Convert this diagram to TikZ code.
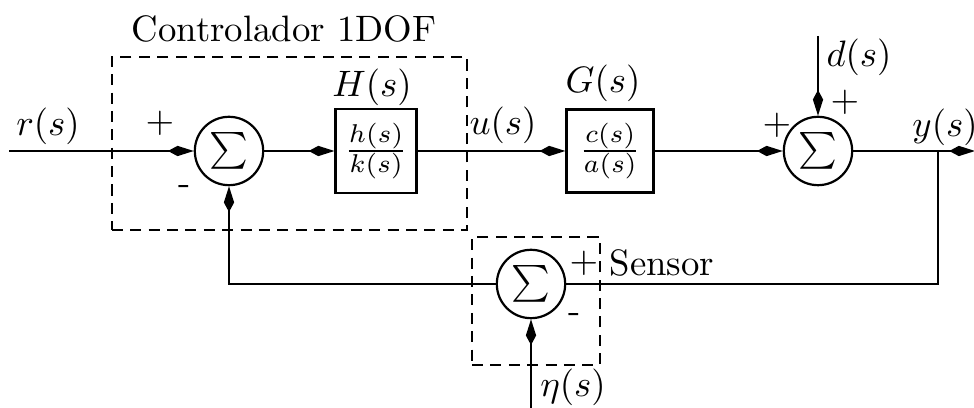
\documentclass[tikz,border=0pt]{standalone}
\usetikzlibrary{arrows.meta}
\begin{document}
\begin{tikzpicture}[x=0.272pt,y=-0.272pt,
  arr/.style={line width=0.7pt,-{Kite[length=7pt,width=2.8pt,inset=2.6pt]}},
  wire/.style={line width=0.7pt},
  sumnode/.style={draw,circle,line width=0.6pt,minimum size=18.6pt,inner sep=0pt},
  tfbox/.style={draw,rectangle,line width=0.6pt,minimum width=22pt,minimum height=23pt,inner sep=0pt},
  dbox/.style={draw,line width=0.5pt,dash pattern=on 3pt off 2pt},
  lbl/.style={inner sep=0pt}]
\useasboundingbox (0,0) rectangle (974,408);
% blocks
\node[sumnode] (s1) at (229,151) {$\sum$};
\node[tfbox] (H) at (376,151) {$\frac{h(s)}{k(s)}$};
\node[tfbox, minimum width=23.7pt, minimum height=22.6pt] (G) at (610,151) {$\frac{c(s)}{a(s)}$};
\node[sumnode] (s2) at (818,151) {$\sum$};
\node[sumnode] (s3) at (531,284) {$\sum$};
% dashed boxes
\node[dbox, minimum width=96.6pt, minimum height=47.1pt, inner sep=0pt] (ctrl) at (289.5,143.5) {};
\node[dbox, minimum width=34.8pt, minimum height=34.8pt, inner sep=0pt] (sens) at (536,301) {};
% coordinates
\coordinate (in) at (9,151);
\coordinate (out) at (975,151);
\coordinate (br) at (938,151);
\coordinate (dtop) at (818,36);
\coordinate (etab) at (531,408);
% connectors
\draw[arr] (in) -- (s1.west);
\draw[arr] (s1.east) -- (H.west);
\draw[arr] (H.east) -- (G.west);
\draw[arr] (G.east) -- (s2.west);
\draw[arr] (s2.east) -- (out);
\draw[arr] (dtop) -- (s2.north);
\draw[wire] (br) |- (s3.east);
\draw[arr] (s3.west) -| (s1.south);
\draw[arr] (etab) -- (s3.south);
% labels
\node[lbl] (tctrl) at (284,29) {Controlador 1DOF};
\node[lbl] (lr) at (48,126) {$r(s)$};
\node[lbl] (p1) at (160,123) {$+$};
\node[lbl] (m1) at (185,190) {-};
\node[lbl] (lH) at (372,87) {$H(s)$};
\node[lbl] (lu) at (503,125) {$u(s)$};
\node[lbl] (lG) at (603,83) {$G(s)$};
\node[lbl] (p2) at (777,125) {$+$};
\node[lbl] (ld) at (859,57) {$d(s)$};
\node[lbl] (p3) at (845,102) {$+$};
\node[lbl] (ly) at (945,127) {$y(s)$};
\node[lbl] (tsens) at (662,263) {Sensor};
\node[lbl] (p4) at (584,263) {$+$};
\node[lbl] (m4) at (575,318) {-};
\node[lbl] (leta) at (573,387) {$\eta(s)$};
\end{tikzpicture}
\end{document}
